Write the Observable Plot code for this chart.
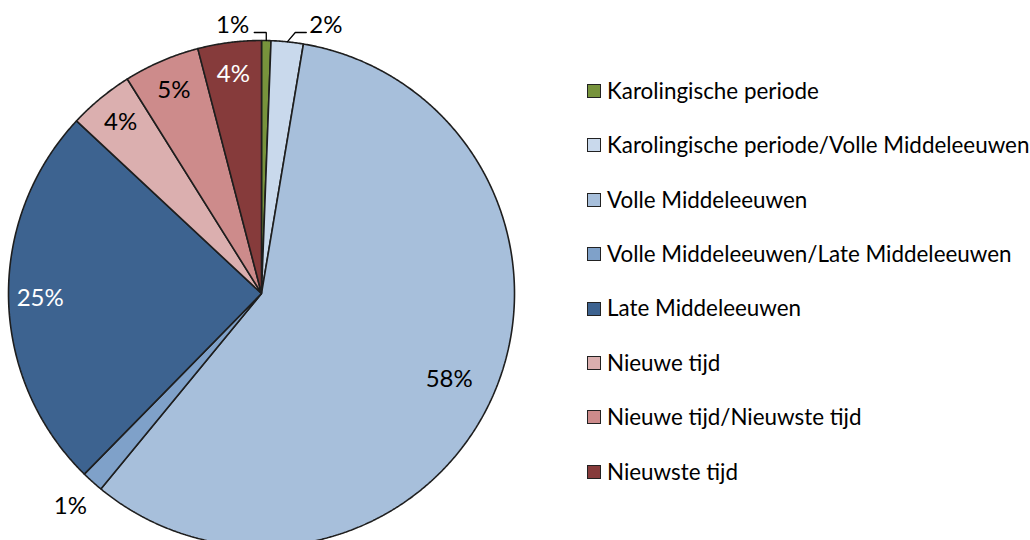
<!DOCTYPE html>
<html><head><meta charset="utf-8">
<script src="https://cdn.jsdelivr.net/npm/d3@7"></script>
<script src="https://cdn.jsdelivr.net/npm/@observablehq/plot@0.6"></script>
<style>
body{margin:0;background:#fff;}
#wrap{position:relative;width:1030px;height:540px;overflow:hidden;font-family:Lato,sans-serif;}
#legend{position:absolute;left:587px;top:0;}
.row{position:absolute;left:0;display:flex;align-items:center;white-space:nowrap;font-size:22.4px;color:#000;line-height:1;}
.sw{width:12px;height:12px;border:1px solid #222;margin-right:6px;flex:none;}
</style></head><body><div id="wrap"></div>
<script>
const categories = ["Karolingische periode","Karolingische periode/Volle Middeleeuwen","Volle Middeleeuwen","Volle Middeleeuwen/Late Middeleeuwen","Late Middeleeuwen","Nieuwe tijd","Nieuwe tijd/Nieuwste tijd","Nieuwste tijd"];
const values = [0.6, 2.05, 58.3, 1.4, 24.6, 4.15, 4.85, 4.05];
const colors = ["#77933C","#C9D9EC","#A7BFDB","#7FA1C9","#3D6390","#DBAFAF","#CD8B8B","#863B3B"];
const labelColors = ["#000","#000","#000","#000","#fff","#000","#000","#fff"];

// layout (pixels)
const W = 1030, H = 540, cx = 261, cy = 293, R = 253;
const total = d3.sum(values);
const fmt = d3.format(".0%");
const arcs = d3.pie().sort(null).value(d => d.value)(categories.map((c, i) => ({cat: c, value: values[i], i})));

const poly = [];
for (const a of arcs) {
  poly.push({cat: a.data.cat, x: 0, y: 0});
  const n = Math.max(4, Math.ceil((a.endAngle - a.startAngle) / 0.005));
  for (let k = 0; k <= n; k++) {
    const t = a.startAngle + (a.endAngle - a.startAngle) * k / n;
    poly.push({cat: a.data.cat, x: Math.sin(t), y: Math.cos(t)});
  }
}

const px = v => v / R;
const labels = [], leaders = [];
for (const a of arcs) {
  const m = (a.startAngle + a.endAngle) / 2;
  const share = a.data.value / total;
  const text = fmt(share);
  const col = labelColors[a.data.i];
  if (share >= 0.03) {
    const r = share > 0.5 ? 0.815 : 0.875;
    labels.push({x: r * Math.sin(m), y: r * Math.cos(m), text, col, anchor: "middle"});
  } else if (m < Math.PI / 6) {
    const p0 = {x: Math.sin(m), y: Math.cos(m)};
    const yl = px(cy - 32);
    if (m < 0.04) {
      const p1 = {x: p0.x, y: yl}, p2 = {x: p0.x - px(12), y: yl};
      leaders.push({id: a.data.i, ...p0}, {id: a.data.i, ...p1}, {id: a.data.i, ...p2});
      labels.push({x: p2.x - px(5), y: yl + px(7), text, col, anchor: "end"});
    } else {
      const p1 = {x: p0.x + px(8), y: yl}, p2 = {x: p1.x + px(11), y: yl};
      leaders.push({id: a.data.i, ...p0}, {id: a.data.i, ...p1}, {id: a.data.i, ...p2});
      labels.push({x: p2.x + px(3), y: yl + px(7), text, col, anchor: "start"});
    }
  } else {
    const r = 1.13;
    labels.push({x: r * Math.sin(m), y: r * Math.cos(m), text, col, anchor: "middle"});
  }
}

const textMark = anchor => Plot.text(labels.filter(d => d.anchor === anchor), {x: "x", y: "y", text: "text", fill: "col", textAnchor: anchor, fontSize: 24});

const plot = Plot.plot({
  width: W, height: H,
  marginLeft: 0, marginRight: 0, marginTop: 0, marginBottom: 0,
  x: {domain: [(0 - cx) / R, (W - cx) / R], axis: null},
  y: {domain: [(cy - H) / R, cy / R], axis: null},
  color: {domain: categories, range: colors},
  style: {fontFamily: "Lato, sans-serif", background: "white"},
  marks: [
    Plot.line(poly, {x: "x", y: "y", z: "cat", fill: "cat", stroke: "#1e1e1e", strokeWidth: 1.6, curve: "linear-closed", strokeLinejoin: "miter"}),
    Plot.line(leaders, {x: "x", y: "y", z: "id", stroke: "#000", strokeWidth: 1.3, strokeLinejoin: "miter"}),
    textMark("middle"), textMark("start"), textMark("end")
  ]
});
const wrap = document.getElementById("wrap");
wrap.appendChild(plot);

const color = plot.scale("color");
const legend = document.createElement("div");
legend.id = "legend";
categories.forEach((c, i) => {
  const row = document.createElement("div");
  row.className = "row";
  row.style.top = (91 + i * 54.4 - 11) + "px";
  row.style.height = "22px";
  const sw = document.createElement("div");
  sw.className = "sw";
  sw.style.background = color.apply(c);
  const t = document.createElement("span");
  t.textContent = c;
  row.appendChild(sw); row.appendChild(t);
  legend.appendChild(row);
});
wrap.appendChild(legend);
</script></body></html>
